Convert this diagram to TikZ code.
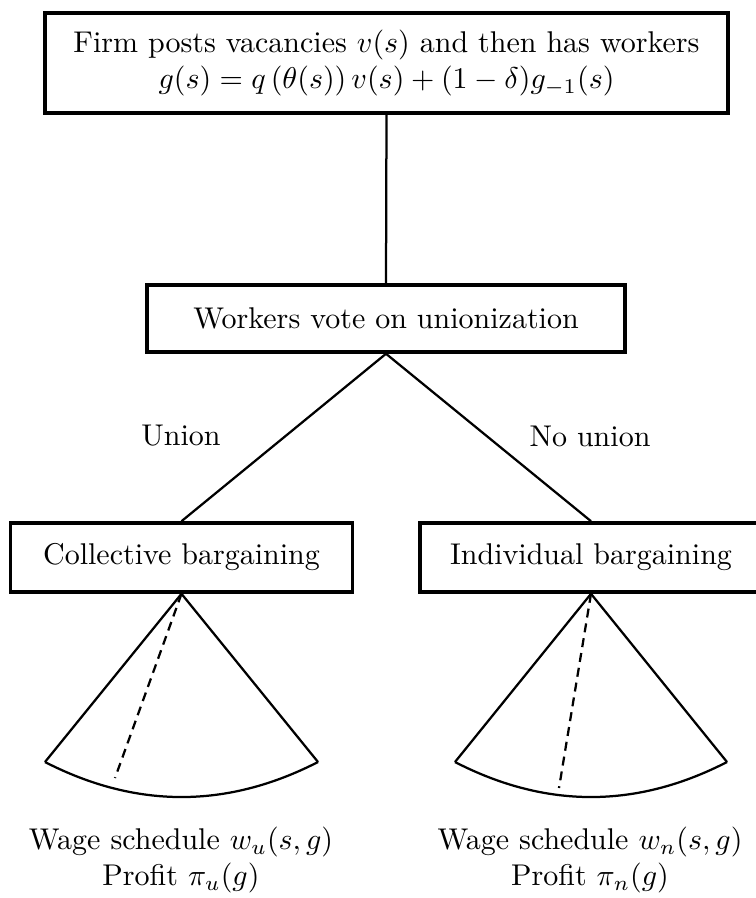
\documentclass[tikz,border=0pt]{standalone}
\usepackage{amsmath}
\tikzset{
  stagebox/.style={draw, line width=1.2pt, rectangle, align=center, inner sep=0pt},
  link/.style={line width=0.75pt},
  fan/.style={line width=0.75pt, line join=miter},
  choice/.style={line width=0.75pt, dash pattern=on 3pt off 2pt},
  lbl/.style={inner sep=0pt, align=center}
}
\begin{document}
\begin{tikzpicture}[x=0.33333pt,y=-0.33333pt]
\useasboundingbox (0,0) rectangle (756,898);
% boxes
\node[stagebox, minimum width=227.7pt, minimum height=33.3pt] (firm) at (386.5,63)
  {Firm posts vacancies $v(s)$ and then has workers\\
   $g(s)=q\left(\theta(s)\right)v(s)+(1-\delta)g_{-1}(s)$};
\node[stagebox, minimum width=159.3pt, minimum height=22.3pt] (vote) at (386,318.5)
  {Workers vote on unionization};
\node[stagebox, minimum width=114pt, minimum height=23pt] (coll) at (181.5,557.5)
  {Collective bargaining};
\node[stagebox, minimum width=114pt, minimum height=23pt] (indiv) at (591,557.5)
  {Individual bargaining};
% connectors
\draw[link] (firm.south) -- (vote.north);
\draw[link] (vote.south) -- (coll.north);
\draw[link] (vote.south) -- (indiv.north);
% branch labels
\node[lbl] (lu) at (181,436) {Union};
\node[lbl] (ln) at (590,436) {No union};
% left fan
\coordinate (cl) at (45,762);
\coordinate (cr) at (318,762);
\coordinate (cd) at (115,778);
\draw[fan] (cl) -- (coll.south) -- (cr);
\draw[fan] (cl) .. controls (136,808.7) and (227,808.7) .. (cr);
\draw[choice] (coll.south) -- (cd);
% right fan
\coordinate (il) at (455,762);
\coordinate (ir) at (727,762);
\coordinate (id) at (559,788);
\draw[fan] (il) -- (indiv.south) -- (ir);
\draw[fan] (il) .. controls (545.7,808.7) and (636.3,808.7) .. (ir);
\draw[choice] (indiv.south) -- (id);
% outcomes
\node[lbl] (ou) at (181,860) {Wage schedule $w_u(s,g)$\\ Profit $\pi_u(g)$};
\node[lbl] (on) at (590,860) {Wage schedule $w_n(s,g)$\\ Profit $\pi_n(g)$};
\end{tikzpicture}
\end{document}
